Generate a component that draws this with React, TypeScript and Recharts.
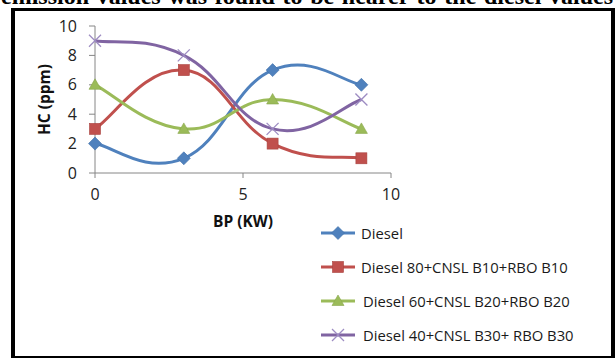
import React from 'react';
import { LineChart, Line, XAxis, YAxis, Legend, Label } from 'recharts';

// Brake power (KW) at which HC emission was measured
const bp = [0, 3, 6, 9];

// HC emission (ppm) for each fuel blend
const diesel = [2, 1, 7, 6];
const blendB10 = [3, 7, 2, 1];
const blendB20 = [6, 3, 5, 3];
const blendB30 = [9, 8, 3, 5];

const seriesKeys = ['s0', 's1', 's2', 's3'];
const seriesNames = [
  'Diesel',
  'Diesel 80+CNSL B10+RBO B10',
  'Diesel 60+CNSL B20+RBO B20',
  'Diesel 40+CNSL B30+ RBO B30',
];

const xTicks = [0, 5, 10];
const yTicks = [0, 2, 4, 6, 8, 10];

const headerText = 'emission values was found to be nearer to the diesel values';

const rows = bp.map((x, i) => ({
  bp: x,
  s0: diesel[i],
  s1: blendB10[i],
  s2: blendB20[i],
  s3: blendB30[i],
}));

const COLORS = ['#4F81BD', '#C0504D', '#9BBB59', '#8064A2'];
const AXIS = '#868686';
const FONT = '"Open Sans", "Noto Sans", sans-serif';

// Spreadsheet-style smoothed line: cubic Bezier segments with Catmull-Rom like tangents.
function smoothCurve(k: number) {
  return (context: any) => {
    let pts: [number, number][] = [];
    return {
      areaStart() {},
      areaEnd() {},
      lineStart() {
        pts = [];
      },
      point(x: number, y: number) {
        pts.push([+x, +y]);
      },
      lineEnd() {
        const n = pts.length;
        if (!n) return;
        context.moveTo(pts[0][0], pts[0][1]);
        for (let i = 0; i < n - 1; i++) {
          const p0 = pts[Math.max(i - 1, 0)];
          const p1 = pts[i];
          const p2 = pts[i + 1];
          const p3 = pts[Math.min(i + 2, n - 1)];
          context.bezierCurveTo(
            p1[0] + k * (p2[0] - p0[0]),
            p1[1] + k * (p2[1] - p0[1]),
            p2[0] - k * (p3[0] - p1[0]),
            p2[1] - k * (p3[1] - p1[1]),
            p2[0],
            p2[1]
          );
        }
      },
    };
  };
}

const curve = smoothCurve(0.22);

function Marker({ kind, cx, cy }: { kind: number; cx: number; cy: number }) {
  if (cx == null || cy == null) return null;
  if (kind === 0) {
    return (
      <polygon
        points={`${cx},${cy - 6.5} ${cx + 6.5},${cy} ${cx},${cy + 6.5} ${cx - 6.5},${cy}`}
        fill={COLORS[0]}
        stroke="#3f6fa8"
        strokeWidth={0.6}
      />
    );
  }
  if (kind === 1) {
    return <rect x={cx - 5.5} y={cy - 5.5} width={11} height={11} fill={COLORS[1]} stroke="#a9413e" strokeWidth={0.6} />;
  }
  if (kind === 2) {
    return (
      <polygon
        points={`${cx},${cy - 6} ${cx + 6},${cy + 4.5} ${cx - 6},${cy + 4.5}`}
        fill={COLORS[2]}
        stroke="#88a64c"
        strokeWidth={0.6}
      />
    );
  }
  return (
    <g stroke="#9d8cc2" strokeWidth={1.3}>
      <line x1={cx - 6} y1={cy - 6} x2={cx + 6} y2={cy + 6} />
      <line x1={cx - 6} y1={cy + 6} x2={cx + 6} y2={cy - 6} />
    </g>
  );
}

function makeDot(kind: number) {
  return (props: any) => <Marker key={`m${kind}-${props.index}`} kind={kind} cx={props.cx} cy={props.cy} />;
}

function LegendBox(props: any) {
  const payload = [...(props.payload || [])].sort(
    (a: any, b: any) => seriesKeys.indexOf(a.dataKey) - seriesKeys.indexOf(b.dataKey)
  );
  return (
    <div style={{ fontFamily: FONT, fontSize: 14.8, color: '#1a1a1a' }}>
      {payload.map((entry: any) => {
        const kind = seriesKeys.indexOf(entry.dataKey);
        return (
          <div key={entry.dataKey} style={{ display: 'flex', alignItems: 'center', height: 34 }}>
            <svg width={40} height={16} style={{ display: 'block' }}>
              <line x1={0} y1={8} x2={34} y2={8} stroke={entry.color} strokeWidth={3} />
              <Marker kind={kind} cx={17} cy={8} />
            </svg>
            <span style={{ whiteSpace: 'pre', marginLeft: kind >= 2 ? 2 : 0 }}>{entry.value}</span>
          </div>
        );
      })}
    </div>
  );
}

export default function App() {
  return (
    <div style={{ position: 'absolute', left: 0, top: 0, width: 616, height: 358, background: '#fff', overflow: 'hidden' }}>
      <div
        style={{
          position: 'absolute',
          left: 1,
          top: -16,
          width: 612,
          height: 24,
          lineHeight: '24px',
          fontFamily: '"Liberation Serif", "Times New Roman", serif',
          fontWeight: 'bold',
          fontSize: 24,
          color: '#000',
          whiteSpace: 'nowrap',
          textAlign: 'justify',
          textAlignLast: 'justify',
        }}
      >
        {headerText}
      </div>
      <div
        style={{
          position: 'absolute',
          left: 11,
          top: 8,
          width: 604,
          height: 350,
          boxSizing: 'border-box',
          background: '#fff',
          borderLeft: '4px solid #000',
          borderTop: '3px solid #000',
          borderRight: '4px solid #000',
          borderBottom: '2px solid #000',
        }}
      />
      <div style={{ position: 'absolute', left: 0, top: 0 }}>
        <LineChart width={616} height={358} data={rows} margin={{ top: 26, right: 225, bottom: 155, left: 35 }}>
          <XAxis
            dataKey="bp"
            type="number"
            domain={[0, 10]}
            ticks={xTicks}
            height={30}
            stroke={AXIS}
            tickSize={5}
            tickMargin={11}
            tick={{ fill: '#222', fontSize: 16, fontFamily: FONT }}
          >
            <Label
              value="BP (KW)"
              position="bottom"
              offset={13}
              style={{ fontFamily: FONT, fontSize: 15.5, fontWeight: 'bold', fill: '#111' }}
            />
          </XAxis>
          <YAxis
            type="number"
            domain={[0, 10]}
            ticks={yTicks}
            width={60}
            stroke={AXIS}
            tickSize={6}
            tickMargin={12}
            tick={{ fill: '#222', fontSize: 16, fontFamily: FONT }}
          >
            <Label
              value="HC (ppm)"
              angle={-90}
              position="insideLeft"
              offset={9}
              textAnchor="middle"
              style={{ fontFamily: FONT, fontSize: 15.5, fontWeight: 'bold', fill: '#111', textAnchor: 'middle' }}
            />
          </YAxis>
          {seriesKeys.map((key, i) => (
            <Line
              key={key}
              dataKey={key}
              name={seriesNames[i]}
              type={curve as any}
              stroke={COLORS[i]}
              strokeWidth={3}
              dot={makeDot(i)}
              activeDot={false}
              isAnimationActive={false}
            />
          ))}
          <Legend
            layout="vertical"
            align="center"
            verticalAlign="middle"
            content={<LegendBox />}
            wrapperStyle={{ left: 321, top: 216, width: 290, height: 140 }}
          />
        </LineChart>
      </div>
    </div>
  );
}
